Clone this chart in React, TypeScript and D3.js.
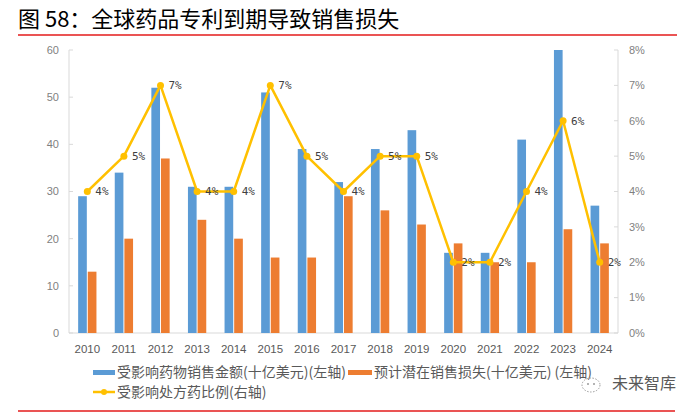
import * as d3 from "d3";

const YEARS = ["2010", "2011", "2012", "2013", "2014", "2015", "2016", "2017", "2018", "2019", "2020", "2021", "2022", "2023", "2024"];
const SALES = [29, 34, 52, 31, 31, 51, 39, 32, 39, 43, 17, 17, 41, 60, 27];
const LOSS = [13, 20, 37, 24, 20, 16, 16, 29, 26, 23, 19, 15, 15, 22, 19];
const SHARE = [0.04, 0.05, 0.07, 0.04, 0.04, 0.07, 0.05, 0.04, 0.05, 0.05, 0.02, 0.02, 0.04, 0.06, 0.02];
const LEFT_TICKS = [0, 10, 20, 30, 40, 50, 60];
const RIGHT_TICKS = [0, 0.01, 0.02, 0.03, 0.04, 0.05, 0.06, 0.07, 0.08];

const TITLE = "图 58：全球药品专利到期导致销售损失";
const LEGEND_SALES = "受影响药物销售金额(十亿美元)(左轴)";
const LEGEND_LOSS = "预计潜在销售损失(十亿美元) (左轴)";
const LEGEND_SHARE = "受影响处方药比例(右轴)";

const BLUE = "#5B9BD5";
const ORANGE = "#ED7D31";
const YELLOW = "#FFC000";
const GRID = "#d9d9d9";
const TEXT = "#595959";
const CJK = "'Noto Sans CJK SC', 'Noto Sans', sans-serif";

export default function App() {
  const width = 700;
  const height = 413;
  const left = 69;
  const right = 618;
  const top = 50;
  const bottom = 333;

  const x = d3.scaleBand<string>().domain(YEARS).range([left, right]).paddingInner(0.5).paddingOuter(0.25);
  const sub = d3.scaleBand<number>().domain([0, 1]).range([0, x.bandwidth()]).paddingInner(0.1);
  const yL = d3.scaleLinear().domain([0, 60]).range([bottom, top]);
  const yR = d3.scaleLinear().domain([0, 0.08]).range([bottom, top]);
  const cx = (yr: string) => (x(yr) ?? 0) + x.bandwidth() / 2;

  const line = d3
    .line<number>()
    .x((_, i) => cx(YEARS[i]))
    .y((d) => yR(d));

  const pct = d3.format(".0%");

  return (
    <svg width={width} height={height} style={{ position: "absolute", left: 0, top: 0, background: "#fff" }}>
      <text x={18} y={27} fontFamily={CJK} fontSize={22} fill="#000">
        {TITLE}
      </text>
      <line x1={18} x2={677} y1={35} y2={35} stroke="#e31b1b" strokeWidth={1.5} />

      {/* axes */}
      <line x1={left} x2={left} y1={top} y2={bottom} stroke={GRID} />
      <line x1={right} x2={right} y1={top} y2={bottom} stroke={GRID} />
      <line x1={left} x2={right} y1={bottom} y2={bottom} stroke={GRID} />
      {LEFT_TICKS.map((t) => (
        <g key={"l" + t}>
          <line x1={left} x2={left + 4} y1={yL(t)} y2={yL(t)} stroke={GRID} />
          <text x={59} y={yL(t)} dy="0.35em" textAnchor="end" fontFamily="'Liberation Sans', sans-serif" fontSize={11} fill="#7f7f7f">
            {t}
          </text>
        </g>
      ))}
      {RIGHT_TICKS.map((t) => (
        <g key={"r" + t}>
          <line x1={right - 4} x2={right} y1={yR(t)} y2={yR(t)} stroke={GRID} />
          <text x={629} y={yR(t)} dy="0.35em" fontFamily="'Liberation Sans', sans-serif" fontSize={11} fill="#7f7f7f">
            {pct(t)}
          </text>
        </g>
      ))}
      {YEARS.map((yr) => (
        <text key={yr} x={cx(yr)} y={349} dy="0.35em" textAnchor="middle" fontFamily="'Liberation Sans', sans-serif" fontSize={11.5} fill={TEXT}>
          {yr}
        </text>
      ))}

      {/* bars */}
      {YEARS.map((yr, i) => (
        <g key={"b" + yr}>
          <rect x={(x(yr) ?? 0) + (sub(0) ?? 0)} y={yL(SALES[i])} width={sub.bandwidth()} height={bottom - yL(SALES[i])} fill={BLUE} />
          <rect x={(x(yr) ?? 0) + (sub(1) ?? 0)} y={yL(LOSS[i])} width={sub.bandwidth()} height={bottom - yL(LOSS[i])} fill={ORANGE} />
        </g>
      ))}

      {/* share line */}
      <path d={line(SHARE) ?? ""} fill="none" stroke={YELLOW} strokeWidth={2.5} strokeLinejoin="round" />
      {SHARE.map((v, i) => (
        <g key={"p" + i}>
          <circle cx={cx(YEARS[i])} cy={yR(v)} r={3.5} fill={YELLOW} />
          <text x={cx(YEARS[i]) + 8} y={yR(v)} dy="0.35em" fontFamily="'DejaVu Sans Mono', monospace" fontSize={11} fill="#404040">
            {pct(v)}
          </text>
        </g>
      ))}

      {/* legend */}
      <rect x={93} y={370} width={22} height={5} fill={BLUE} />
      <text x={117} y={372.5} dy="0.35em" fontFamily={CJK} fontSize={14} fill={TEXT}>
        {LEGEND_SALES}
      </text>
      <rect x={348} y={370} width={24} height={5} fill={ORANGE} />
      <text x={374} y={372.5} dy="0.35em" fontFamily={CJK} fontSize={14} fill={TEXT}>
        {LEGEND_LOSS}
      </text>
      <line x1={93} x2={115} y1={392} y2={392} stroke={YELLOW} strokeWidth={2.5} />
      <circle cx={104} cy={392} r={3} fill={YELLOW} />
      <text x={117} y={392} dy="0.35em" fontFamily={CJK} fontSize={14} fill={TEXT}>
        {LEGEND_SHARE}
      </text>

      {/* watermark */}
      <g stroke="#9a9a9a" strokeWidth={1} fill="none" strokeDasharray="1.5 1.5">
        <ellipse cx={591} cy={385} rx={9} ry={7} />
      </g>
      <circle cx={588} cy={384} r={1} fill="#9a9a9a" />
      <circle cx={594} cy={384} r={1} fill="#9a9a9a" />
      <text x={612} y={383} dy="0.35em" fontFamily={CJK} fontSize={16} fill={TEXT}>
        未来智库
      </text>

      <line x1={18} x2={675} y1={411} y2={411} stroke="#e31b1b" strokeWidth={1.5} />
    </svg>
  );
}
